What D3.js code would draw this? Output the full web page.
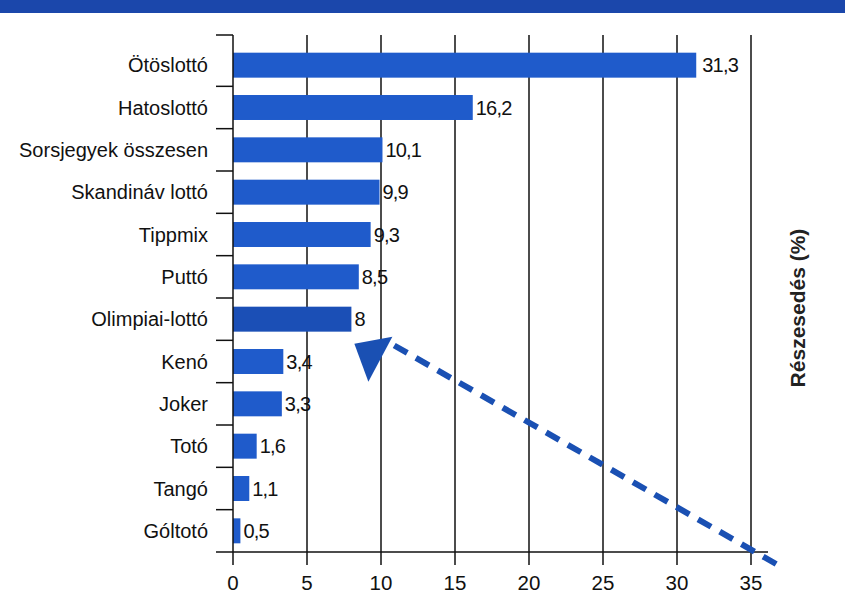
<!DOCTYPE html>
<html><head><meta charset="utf-8">
<script src="https://cdn.jsdelivr.net/npm/d3@7"></script>
<style>html,body{margin:0;padding:0;background:#fff;}svg{display:block;}</style>
</head><body>
<svg id="c" width="845" height="593"></svg>
<script>
const categories = ["Ötöslottó","Hatoslottó","Sorsjegyek összesen","Skandináv lottó","Tippmix","Puttó","Olimpiai-lottó","Kenó","Joker","Totó","Tangó","Góltotó"];
const values = [31.3,16.2,10.1,9.9,9.3,8.5,8,3.4,3.3,1.6,1.1,0.5];
const valueLabels = ["31,3","16,2","10,1","9,9","9,3","8,5","8","3,4","3,3","1,6","1,1","0,5"];
const xTicks = [0,5,10,15,20,25,30,35];
const axisTitle = "Részesedés (%)";

const svg = d3.select("#c");
const font = "'Liberation Sans', Arial, Helvetica, sans-serif";
const barColor = "#1f5bcb", darkBar = "#1b4fb6", bandColor = "#1b47ab";

// top band
svg.append("rect").attr("x",0).attr("y",0).attr("width",845).attr("height",13).attr("fill",bandColor);

const x = d3.scaleLinear().domain([0,35]).range([233,751]);
const y = d3.scaleBand().domain(categories).range([44,552]).paddingInner(0.41).paddingOuter(0.205);
const topY = 35, axisY = 552;

// gridlines
svg.append("g").selectAll("line").data(xTicks.slice(1)).join("line")
  .attr("x1",d=>x(d)).attr("x2",d=>x(d)).attr("y1",topY).attr("y2",axisY)
  .attr("stroke","#111").attr("stroke-width",1.5);

// bars
svg.append("g").selectAll("rect").data(categories).join("rect")
  .attr("x",x(0)).attr("y",d=>y(d)).attr("height",y.bandwidth())
  .attr("width",(d,i)=>x(values[i])-x(0))
  .attr("fill",(d,i)=>d==="Olimpiai-lottó"?darkBar:barColor);

// value labels
svg.append("g").selectAll("text").data(categories).join("text")
  .attr("x",(d,i)=>x(values[i])+(i===0?6:3)).attr("y",d=>y(d)+y.bandwidth()/2)
  .attr("dy","0.36em").attr("font-family",font).attr("font-size",20).attr("fill","#111")
  .attr("letter-spacing",-0.8)
  .text((d,i)=>valueLabels[i]);

// y axis
svg.append("line").attr("x1",x(0)).attr("x2",x(0)).attr("y1",topY).attr("y2",axisY).attr("stroke","#111").attr("stroke-width",1.5);
const step = y.step();
const tickYs = [topY].concat(d3.range(1,categories.length).map(i=>y.range()[0]+i*step));
svg.append("g").selectAll("line").data(tickYs).join("line")
  .attr("x1",216).attr("x2",x(0)).attr("y1",d=>d).attr("y2",d=>d).attr("stroke","#111").attr("stroke-width",1.5);
svg.append("g").selectAll("text").data(categories).join("text")
  .attr("x",208).attr("y",d=>y(d)+y.bandwidth()/2).attr("dy","0.36em")
  .attr("text-anchor","end").attr("font-family",font).attr("font-size",20).attr("fill","#111")
  .text(d=>d);

// x axis
svg.append("line").attr("x1",216).attr("x2",768).attr("y1",axisY).attr("y2",axisY).attr("stroke","#111").attr("stroke-width",1.5);
svg.append("g").selectAll("line").data(xTicks).join("line")
  .attr("x1",d=>x(d)).attr("x2",d=>x(d)).attr("y1",axisY).attr("y2",axisY+13).attr("stroke","#111").attr("stroke-width",1.5);
svg.append("g").selectAll("text").data(xTicks).join("text")
  .attr("x",d=>x(d)).attr("y",590).attr("text-anchor","middle")
  .attr("font-family",font).attr("font-size",20.5).attr("fill","#111").text(d=>d);

// axis title
svg.append("text").attr("transform","translate(805,308) rotate(-90)")
  .attr("text-anchor","middle").attr("font-family",font).attr("font-weight","bold")
  .attr("font-size",21).attr("fill","#222").text(axisTitle);

// dashed arrow annotation
const ax0 = x(36.7), ay0 = axisY+12, ax1 = x(10.6), ay1 = y("Kenó")-6;
svg.append("line").attr("x1",ax0).attr("y1",ay0).attr("x2",ax1).attr("y2",ay1)
  .attr("stroke","#1a50b3").attr("stroke-width",6).attr("stroke-dasharray","15,10");
const tip = [x(8.2), y("Olimpiai-lottó")+y.bandwidth()+12];
svg.append("path").attr("d",`M${tip[0]},${tip[1]} L${tip[0]+38},${tip[1]-7} L${tip[0]+14},${tip[1]+38} Z`)
  .attr("fill","#1a50b3");
</script>
</body></html>
